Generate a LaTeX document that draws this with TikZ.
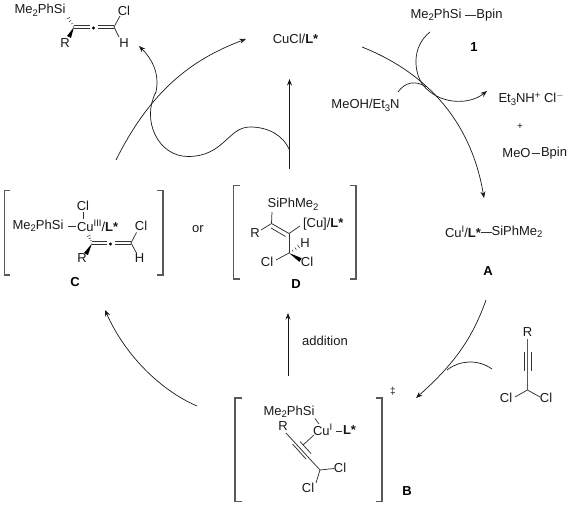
\documentclass[tikz,border=0pt]{standalone}
\usepackage{fontspec}
\setmainfont{Liberation Sans}
\usetikzlibrary{arrows.meta,calc}
\newcommand{\sbs}[1]{\raisebox{-2.5pt}{\fontsize{9.5}{9.5}\selectfont #1}}
\newcommand{\sps}[1]{\raisebox{4.5pt}{\fontsize{9.5}{9.5}\selectfont #1}}
\newcommand{\LS}{\textbf{L*}}
\newcommand{\hashw}[2]{\foreach \t/\w in {0.05/0.3,0.3/0.8,0.55/1.3,0.8/1.8,1/2.2}
  {\draw[hashl] ($(#1)!\t!(#2)!\w pt!90:(#2)$) -- ($(#1)!\t!(#2)!\w pt!-90:(#2)$);}}
\newcommand{\wedgew}[2]{\fill[black] ($(#2)!2.2pt!90:(#1)$) -- (#1) -- ($(#2)!2.2pt!-90:(#1)$) -- cycle;}
\tikzset{
  txt/.style={inner sep=0pt,outer sep=0pt,font=\fontsize{13}{15}\selectfont,text=black!90},
  lab/.style={inner sep=0pt,outer sep=0pt,font=\fontsize{13}{15}\selectfont\bfseries,text=black},
  bond/.style={draw=black!80,line width=0.75pt},
  brk/.style={draw=black!65,line width=1.1pt},
  curve/.style={draw=black!90,line width=0.7pt},
  arr/.style={curve,-{Stealth[length=6.5pt,width=5pt]}},
  hashl/.style={draw=black!80,line width=0.5pt},
  dotf/.style={circle,fill=black,inner sep=0pt,minimum size=3.4pt}
}
\begin{document}
\begin{tikzpicture}[x=1pt,y=-1pt]
\useasboundingbox (0,0) rectangle (572,505);

% ---- product allene (top left)
\node[txt] (pSi) at (40,10.5) {Me\sbs{2}PhSi};
\node[txt] (pCl) at (124,10.5) {Cl};
\node[txt] (pH) at (124,43) {H};
\node[txt] (pR) at (65,43) {R};
\node[dotf] (pdot) at (93.5,28) {};
\coordinate (pa) at (74,27);
\coordinate (pb) at (114,27);
\coordinate (pw) at (69,37);
\coordinate (ph) at (67,16);
\draw[bond] (pdot) ++(-3.5,-3) -- ++(-16,0) ++(0,3.5) -- ++(16,0);
\draw[bond] (pdot) ++(4,-3) -- ++(16,0) ++(0,3.5) -- ++(-16,0);
\draw[bond] (pb) -- (120,16);
\draw[bond] (pb) -- (119,37);
\wedgew{pa}{pw}
\hashw{pa}{ph}

% ---- catalyst
\node[txt] (cat) at (295.5,39) {CuCl/\LS};

% ---- reagents, right
\node[txt] (rSi) at (436,15) {Me\sbs{2}PhSi};
\node[txt] (rB) at (489.5,15) {Bpin};
\draw[bond] (465,15) -- (rB.west);
\node[lab] (n1) at (474,47) {1};
\node[txt] (meoh) at (365.5,105.5) {MeOH/Et\sbs{3}N};
\node[txt] (salt) at (531,99) {Et\sbs{3}NH\sps{+} Cl\sps{$-$}};
\node[txt] (plus) at (520,127) {\fontsize{10}{10}\selectfont +};
\node[txt] (meo) at (516.5,153) {MeO};
\node[txt] (mB) at (554,153) {Bpin};
\draw[bond] (meo.east) ++(1,0) -- ($(mB.west)+(-1,0)$);

% ---- A
\node[txt] (aCu) at (463,232) {Cu\sps{I}/\LS};
\node[txt] (aSi) at (517,232) {SiPhMe\sbs{2}};
\draw[bond] (aCu.east) -- (aSi.west);
\node[lab] (nA) at (488,271) {A};

% ---- alkyne substrate
\node[txt] (sR) at (527.5,332) {R};
\node[txt] (sCl1) at (506,398) {Cl};
\node[txt] (sCl2) at (546,398) {Cl};
\coordinate (sa) at (527.5,339);
\coordinate (sc) at (527.5,390);
\draw[draw=black!65,line width=1.2pt] (sa) -- (sc);
\draw[bond] (524,352) -- (524,371) (531.5,352) -- (531.5,371);
\draw[bond] (sc) -- (515,397);
\draw[bond] (sc) -- (540,397);

% ---- C
\draw[brk] (10,190.5) -- (4.5,190.5) -- (4.5,275) -- (10,275);
\draw[brk] (157,190.5) -- (163,190.5) -- (163,275) -- (157,275);
\node[txt] (cSi) at (38,226) {Me\sbs{2}PhSi};
\node[txt,anchor=west] (cCu) at (77,226) {Cu\sps{III}/\LS};
\node[txt] (cCl) at (83,206) {Cl};
\node[txt] (cCl2) at (141,226) {Cl};
\node[txt] (cH) at (139.5,258) {H};
\node[txt] (cR) at (82,258) {R};
\node[lab] (nC) at (75,282) {C};
\node[dotf] (cdot) at (110.5,244) {};
\coordinate (ca) at (92,243.5);
\coordinate (cb) at (131,243);
\coordinate (cw) at (86,254);
\coordinate (ch) at (88,234);
\draw[bond] (68,226) -- (75.5,226);
\draw[bond] (83,212) -- (83,219);
\draw[bond] (cdot) ++(-3.5,-3) -- ++(-15,0) ++(0,3.5) -- ++(15,0);
\draw[bond] (cdot) ++(4,-3) -- ++(16,0) ++(0,3.5) -- ++(-16,0);
\draw[bond] (cb) -- (136.5,232.5);
\draw[bond] (cb) -- (136.5,253);
\wedgew{ca}{cw}
\hashw{ca}{ch}

\node[txt] (or) at (198,229) {or};

% ---- D
\draw[brk] (240,185.5) -- (233.5,185.5) -- (233.5,279) -- (240,279);
\draw[brk] (350,185.5) -- (356,185.5) -- (356,279) -- (350,279);
\node[txt] (dSi) at (293,204.5) {SiPhMe\sbs{2}};
\node[txt] (dR) at (255,233) {R};
\node[txt,anchor=west] (dCu) at (303,224) {[Cu]/\LS};
\node[txt] (dH) at (305,243) {H};
\node[txt] (dCl1) at (267,262) {Cl};
\node[txt] (dCl2) at (307,262) {Cl};
\node[lab] (nD) at (296,284.5) {D};
\coordinate (d1) at (271.5,223.5);
\coordinate (d2) at (289,233.5);
\coordinate (d3) at (289,253);
\coordinate (d4) at (300.5,260);
\coordinate (d5) at (301,245);
\draw[bond] (d1) -- (272,212);
\draw[bond] (d1) -- (261,230);
\draw[bond] (d1) -- (d2);
\draw[bond] (271,228) -- (285.5,236.5);
\draw[bond] (d2) -- (300,226);
\draw[bond] (d2) -- (d3);
\draw[bond] (d3) -- (276,260);
\wedgew{d3}{d4}
\hashw{d3}{d5}

% ---- B
\draw[brk] (242,398) -- (235,398) -- (235,501.5) -- (242,501.5);
\draw[brk] (376,398) -- (382,398) -- (382,501.5) -- (376,501.5);
\node[txt] (bSi) at (289,412) {Me\sbs{2}PhSi};
\node[txt] (bR) at (283,426) {R};
\node[txt,anchor=west] (bCu) at (313,430) {Cu\sps{I}};
\node[txt,anchor=west] (bL) at (343,430.5) {\LS};
\node[txt] (bCl1) at (340,468) {Cl};
\node[txt] (bCl2) at (308,488) {Cl};
\node[lab] (nB) at (407,491) {B};
\node[txt] (dag) at (393,391) {\fontsize{10}{10}\selectfont ‡};
\coordinate (b1) at (286,433);
\coordinate (b2) at (320,470);
\draw[bond] (b1) -- (b2);
\draw[bond] (292.5,444) -- (306,459);
\draw[bond] (300,441.5) -- (311,453.5);
\draw[bond] (315,418.5) -- (319,424);
\draw[bond] (336,431) -- (341.5,431);
\draw[bond] (314,435) -- (303,445);
\draw[bond] (b2) -- (334,468.5);
\draw[bond] (b2) -- (316,483);

\node[txt] (add) at (325,340.5) {addition};

% ---- arrows
\coordinate (t1) at (116,160);
\coordinate (t2) at (246,39);
\draw[arr] (t1) .. controls (150,92) and (190,60) .. (t2);

\coordinate (v1) at (289.5,169);
\coordinate (v2) at (289.5,79);
\draw[arr] (v1) -- (v2);

\coordinate (s1) at (289.5,150);
\coordinate (s2) at (250,127);
\coordinate (s3) at (188,156.5);
\coordinate (s4) at (156,92);
\coordinate (s5) at (139,46);
\draw[arr] (s1) .. controls (283,135) and (268,127) .. (s2)
  .. controls (228,127) and (224,156.5) .. (s3)
  .. controls (158,156.5) and (141,120) .. (s4)
  .. controls (160,72) and (151,58) .. (s5);

\coordinate (c1) at (362,47);
\coordinate (c2) at (484,198);
\draw[arr] (c1) .. controls (420,70) and (470,115) .. (c2);

\coordinate (m1) at (430,32);
\coordinate (m2) at (487,91);
\draw[arr] (m1) .. controls (411,47) and (414,73) .. (423,85)
  .. controls (438,104) and (468,106) .. (m2);

\coordinate (o1) at (398,92);
\coordinate (o2) at (426,87);
\draw[curve] (o1) .. controls (405,82) and (416,80) .. (o2);

\coordinate (l1) at (486,300);
\coordinate (l2) at (416,398);
\draw[arr] (l1) .. controls (472,340) and (452,366) .. (l2);

\coordinate (k1) at (492,369);
\coordinate (k2) at (447,370);
\draw[curve] (k1) .. controls (478,359) and (460,360) .. (k2);

\coordinate (e1) at (197,406);
\coordinate (e2) at (105,310);
\draw[arr] (e1) .. controls (160,390) and (125,355) .. (e2);

\coordinate (f1) at (288,376);
\coordinate (f2) at (288,313);
\draw[arr] (f1) -- (f2);
\end{tikzpicture}
\end{document}
